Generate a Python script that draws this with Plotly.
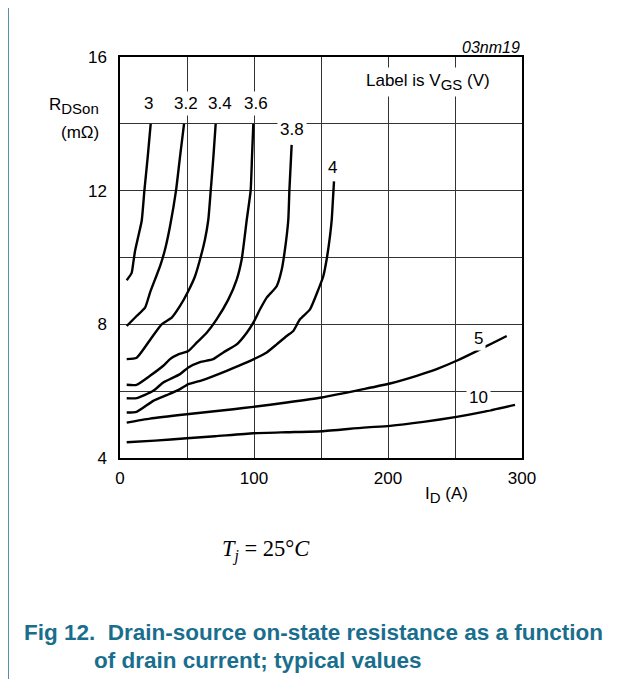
import plotly.graph_objects as go

# ---- data (I_D in A, R_DSon in mOhm) ----
vgs_labels = ["3", "3.2", "3.4", "3.6", "3.8", "4", "5", "10"]

id_3 = [5, 8.7, 9.9, 11.2, 13.7, 16.2, 18.2, 20.7, 22.9]
r_3 = [9.32, 9.54, 9.84, 10.19, 10.64, 11.1, 12.0, 13.02, 14.0]

id_32 = [5, 12.4, 18.7, 22.4, 26.1, 29.9, 33.6, 37.3, 41.8, 44.8, 47.8]
r_32 = [7.95, 8.25, 8.5, 8.95, 9.34, 9.74, 10.24, 10.93, 12.0, 13.02, 14.0]

id_34 = [5, 12.4, 23.6, 31.1, 38.6, 44.8, 51, 56, 59.7, 63.4, 65.9, 67.7, 69.7, 71.4]
r_34 = [6.96, 7.0, 7.6, 8.0, 8.2, 8.55, 9.0, 9.44, 9.94, 10.54, 11.13, 12.0, 13.02, 14.0]

id_36 = [5, 12.4, 22.4, 32.3, 37.3, 43.5, 51, 57.2, 64.7, 72.1, 80.8, 87.1, 90.8, 94.6, 97.5, 98.5, 99.5]
r_36 = [6.19, 6.19, 6.46, 6.76, 6.96, 7.1, 7.2, 7.45, 7.75, 8.15, 8.74, 9.34, 9.94, 11.13, 12.0, 13.0, 14.0]

id_38 = [5, 12.4, 24.8, 32.3, 44.8, 51, 59.7, 69.6, 77.1, 87.1, 94.6, 99.5, 104.5, 109.5,
         116.9, 120.7, 123.1, 125.6, 126.4, 128.1]
r_38 = [5.79, 5.79, 6.01, 6.26, 6.51, 6.71, 6.87, 6.96, 7.16, 7.4, 7.75, 8.05, 8.45, 8.8,
        9.14, 9.64, 10.24, 11.13, 12.0, 13.37]

id_4 = [5, 12.4, 24.8, 34.8, 44.8, 51, 62.2, 79.6, 94.6, 102, 109.5, 116.9, 124.4, 129.3,
        134.3, 141.8, 148, 151.7, 154.2, 156.7, 158, 159, 159.7]
r_4 = [5.36, 5.38, 5.71, 5.88, 6.06, 6.21, 6.34, 6.61, 6.86, 7.0, 7.16, 7.4, 7.65, 7.8,
       8.15, 8.45, 9.04, 9.44, 9.94, 10.64, 11.13, 11.8, 12.28]

id_5 = [5, 22.4, 49.8, 84.6, 99.5, 124.4, 150.5, 181.6, 201.5, 221.4, 236.3, 251.2, 266.2, 278.6, 288.6]
r_5 = [5.06, 5.18, 5.31, 5.46, 5.53, 5.66, 5.81, 6.06, 6.23, 6.46, 6.66, 6.91, 7.2, 7.45, 7.65]

id_10 = [5, 26.1, 49.8, 70.9, 99.5, 124.4, 150.5, 181.6, 201.5, 226.4, 251.2, 271.1, 294.8]
r_10 = [4.47, 4.52, 4.59, 4.65, 4.74, 4.77, 4.8, 4.91, 4.96, 5.08, 5.23, 5.38, 5.59]

label_x = [20.9, 49, 74.6, 101.3, 128.6, 158.4, 267.4, 267.4]
label_y = [14.6, 14.6, 14.6, 14.6, 13.84, 12.7, 7.57, 5.81]

x_ticks = [0, 100, 200, 300]
x_ticktext = ["0", "100", "200", "300"]
y_ticks = [4, 8, 12, 16]
y_ticktext = ["4", "8", "12", "16"]

series = [(id_3, r_3), (id_32, r_32), (id_34, r_34), (id_36, r_36),
          (id_38, r_38), (id_4, r_4), (id_5, r_5), (id_10, r_10)]

fig = go.Figure()
for (xs, ys), name in zip(series, vgs_labels):
    fig.add_trace(go.Scatter(x=xs, y=ys, mode="lines", name=name,
                             line=dict(color="black", width=2.4, shape="spline", smoothing=0.5),
                             showlegend=False, hoverinfo="skip"))

font = "Liberation Sans, Arial, sans-serif"
FS = 17


def sub(t):
    return "<sub><span style='font-size:15px'>" + t + "</span></sub>"


ann = []
for lx, ly, t in zip(label_x, label_y, vgs_labels):
    ann.append(dict(x=lx, y=ly, xref="x", yref="y", text=t, showarrow=False,
                    xanchor="center", yanchor="middle",
                    font=dict(family=font, size=FS, color="black"), bgcolor="white", borderpad=2))

ann.append(dict(x=230, y=15.26, xref="x", yref="y", text="Label is V" + sub("GS") + " (V)",
                showarrow=False, xanchor="center", yanchor="middle",
                font=dict(family=font, size=FS, color="black"),
                bgcolor="white", borderpad=3))

# plot area occupies page pixels x 120..522, y 57..458 (page has an 8px body margin)
def px(xp):
    return (xp - 120) / 402.0

def py(yp):
    return (458 - yp) / 401.0

def note(xp, yp, text, size, xanchor="center", family=font, color="black"):
    return dict(x=px(xp), y=py(yp), xref="paper", yref="paper", xanchor=xanchor,
                yanchor="middle", text=text, showarrow=False,
                font=dict(family=family, size=size, color=color))

ann += [
    note(522, 47, "<i>03nm19</i>", 16, xanchor="right"),
    note(74, 106, "R" + sub("DSon"), FS),
    note(80, 133, "(mΩ)", FS),
    note(446, 495, "I" + sub("D") + " (A)", FS),
    note(266, 550, "<i>T</i><sub><i>j</i></sub> = 25°<i>C</i>", 22.5,
         family="Liberation Serif, Times New Roman, serif"),
    note(22, 632, "<b>Fig 12.  Drain-source on-state resistance as a function</b>", 22.5,
         xanchor="left", color="#1a6e8d"),
    note(92, 660, "<b>of drain current; typical values</b>", 22.5,
         xanchor="left", color="#1a6e8d"),
]

shapes = [
    dict(type="line", xref="paper", yref="paper", x0=px(0), x1=px(640), y0=py(6), y1=py(6),
         line=dict(color="#1a6e8d", width=1.5)),
    dict(type="line", xref="paper", yref="paper", x0=px(8), x1=px(8), y0=py(0), y1=py(690),
         line=dict(color="#1a6e8d", width=1.5)),
]

fig.update_layout(
    width=627, height=679,
    margin=dict(l=112, r=113, t=49, b=229),
    paper_bgcolor="white", plot_bgcolor="white",
    annotations=ann, shapes=shapes,
    xaxis=dict(range=[0, 300], tickvals=x_ticks, ticktext=x_ticktext, showgrid=True,
               gridcolor="#333333", gridwidth=1, showline=True, linecolor="black", linewidth=1.5,
               mirror=True, ticks="", zeroline=False, ticklabelstandoff=4,
               minor=dict(dtick=50, showgrid=True, gridcolor="#333333", gridwidth=1, ticks=""),
               tickfont=dict(family=font, size=FS, color="black")),
    yaxis=dict(range=[4, 16], tickvals=y_ticks, ticktext=y_ticktext, showgrid=True,
               gridcolor="#333333", gridwidth=1, showline=True, linecolor="black", linewidth=1.5,
               mirror=True, ticks="", zeroline=False, ticklabelstandoff=8,
               minor=dict(dtick=2, showgrid=True, gridcolor="#333333", gridwidth=1, ticks=""),
               tickfont=dict(family=font, size=FS, color="black")),
)

fig.write_html("out.html")
